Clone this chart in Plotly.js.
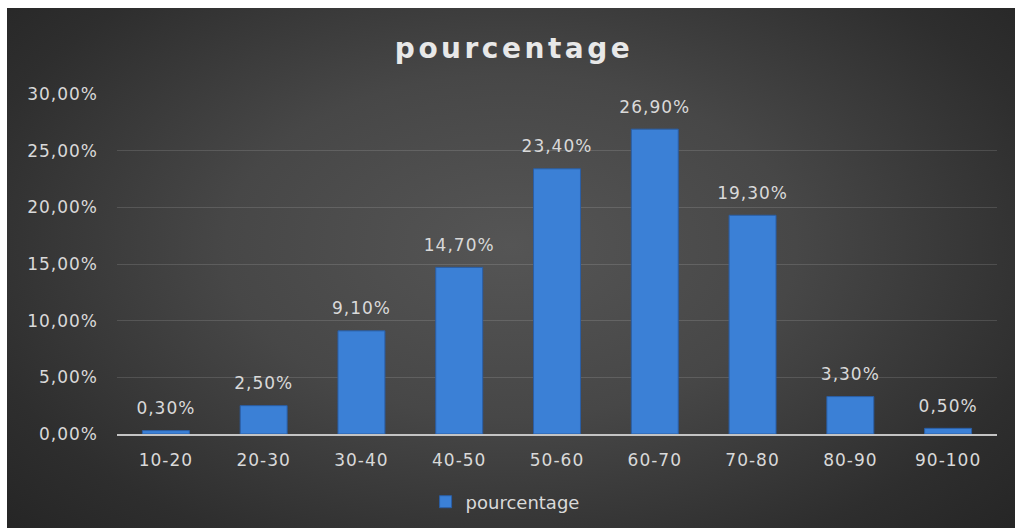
<!DOCTYPE html>
<html>
<head>
<meta charset="utf-8">
<script src="https://cdn.plot.ly/plotly-3.0.1.min.js"></script>
<style>
  html, body { margin: 0; padding: 0; background: #ffffff; width: 1015px; height: 528px; overflow: hidden; }
  #chart {
    position: absolute; left: 7px; top: 8px; width: 1008px; height: 540px;
    background: radial-gradient(ellipse at 50% 44%, #555555 0%, #474747 40%, #2e2e2e 78%, #242424 100%);
  }
  #chart .xtick text, #chart .ytick text, #chart .textpoint text { letter-spacing: 1px; }
  #chart .gtitle { letter-spacing: 3.5px; }
</style>
</head>
<body>
<div id="chart"></div>
<script>
const categories = ["10-20", "20-30", "30-40", "40-50", "50-60", "60-70", "70-80", "80-90", "90-100"];
const values = [0.003, 0.025, 0.091, 0.147, 0.234, 0.269, 0.193, 0.033, 0.005];
const seriesName = "pourcentage";
const chartTitle = "pourcentage";

const font = "DejaVu Sans, Verdana, sans-serif";
const textColor = "#d9d9d9";

const barTrace = {
  type: "bar",
  x: categories,
  y: values,
  name: seriesName,
  marker: { color: "#3b80d6", line: { color: "#2a5ea6", width: 1 } },
  hoverinfo: "skip"
};

const labelTrace = {
  type: "scatter",
  mode: "markers+text",
  x: categories,
  y: values,
  showlegend: false,
  marker: { size: 18, opacity: 0 },
  texttemplate: "%{y:.2%}",
  textposition: "top center",
  cliponaxis: false,
  textfont: { family: font, size: 17, color: textColor },
  hoverinfo: "skip"
};

const layout = {
  width: 1008,
  height: 540,
  paper_bgcolor: "rgba(0,0,0,0)",
  plot_bgcolor: "rgba(0,0,0,0)",
  separators: ", ",
  margin: { l: 110, r: 18, t: 86, b: 114 },
  bargap: 0.52,
  showlegend: true,
  font: { family: font, color: textColor, size: 17 },
  title: {
    text: chartTitle,
    font: { family: font, size: 28, color: "#e8e8e8", weight: "bold" },
    x: 0.503, xanchor: "center", xref: "container",
    y: 1 - 40 / 540, yanchor: "middle", yref: "container"
  },
  xaxis: {
    type: "category",
    range: [-0.5, categories.length - 0.5],
    autorange: false,
    showgrid: false,
    showline: true,
    linecolor: "#c4c4c4",
    linewidth: 2,
    ticks: "",
    tickangle: 0,
    ticklabelstandoff: 10,
    tickfont: { family: font, size: 17, color: textColor },
    zeroline: false
  },
  yaxis: {
    range: [0, 0.30],
    autorange: false,
    dtick: 0.05,
    tickformat: ".2%",
    showgrid: true,
    gridcolor: "rgba(255,255,255,0.13)",
    gridwidth: 1,
    zeroline: false,
    showline: false,
    ticks: "",
    ticklabelstandoff: 18,
    tickfont: { family: font, size: 17, color: textColor }
  },
  legend: {
    orientation: "h",
    x: 0.441, xanchor: "center",
    y: -0.2, yanchor: "middle",
    font: { family: font, size: 18, color: textColor },
    bgcolor: "rgba(0,0,0,0)",
    itemwidth: 30
  }
};

Plotly.newPlot("chart", [barTrace, labelTrace], layout, { displayModeBar: false, staticPlot: true });
</script>
</body>
</html>
